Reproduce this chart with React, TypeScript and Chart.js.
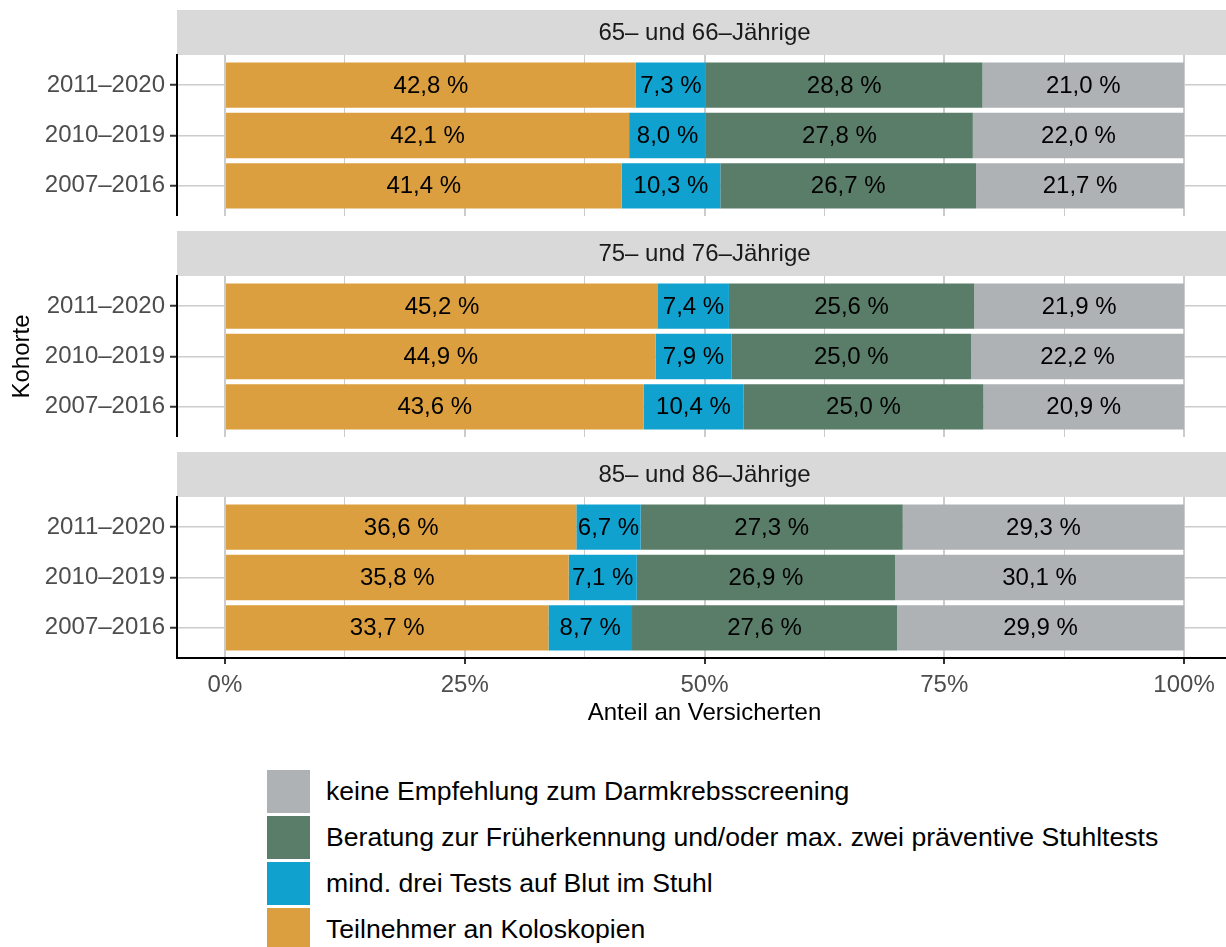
import React, { useEffect, useRef } from 'react';
import { Chart, registerables } from 'chart.js';

Chart.register(...registerables);

// ---------- data ----------
const panelTitles = ['65– und 66–Jährige', '75– und 76–Jährige', '85– und 86–Jährige'];
const cohorts = ['2011–2020', '2010–2019', '2007–2016'];
const seriesNames = [
  'Teilnehmer an Koloskopien',
  'mind. drei Tests auf Blut im Stuhl',
  'Beratung zur Früherkennung und/oder max. zwei präventive Stuhltests',
  'keine Empfehlung zum Darmkrebsscreening',
];
const seriesColors = ['#DB9F3F', '#10A1CF', '#5A7D6A', '#AEB2B5'];

// values per panel (outer) and cohort (inner), in %
const koloskopie = [
  [42.8, 42.1, 41.4],
  [45.2, 44.9, 43.6],
  [36.6, 35.8, 33.7],
];
const bluttests = [
  [7.3, 8.0, 10.3],
  [7.4, 7.9, 10.4],
  [6.7, 7.1, 8.7],
];
const beratung = [
  [28.8, 27.8, 26.7],
  [25.6, 25.0, 25.0],
  [27.3, 26.9, 27.6],
];
const keineEmpfehlung = [
  [21.0, 22.0, 21.7],
  [21.9, 22.2, 20.9],
  [29.3, 30.1, 29.9],
];

const xMajorTicks = [0, 25, 50, 75, 100];
const xTickLabels = ['0%', '25%', '50%', '75%', '100%'];
const xMinorTicks = [12.5, 37.5, 62.5, 87.5];
const xAxisTitle = 'Anteil an Versicherten';
const yAxisTitle = 'Kohorte';
const legendOrder = [3, 2, 1, 0];

// ---------- layout ----------
const FONT = '"Liberation Sans", Arial, Helvetica, sans-serif';
const STRIP_H = 45;
const PLOT_H = 161;
const AXIS_LEFT = 177;
const AXIS_H = 70;
const CANVAS_W = 1232;
const panelTops = [10, 231, 452];

const stripPlugin = {
  id: 'strip',
  beforeDraw(chart: any, _args: any, opts: any) {
    const { ctx, chartArea } = chart;
    ctx.save();
    ctx.fillStyle = '#D9D9D9';
    ctx.fillRect(chartArea.left, chartArea.top - STRIP_H, chartArea.right - chartArea.left, STRIP_H);
    ctx.fillStyle = '#1A1A1A';
    ctx.font = `24px ${FONT}`;
    ctx.textAlign = 'center';
    ctx.textBaseline = 'middle';
    ctx.fillText(opts.title, (chartArea.left + chartArea.right) / 2, chartArea.top - STRIP_H / 2 + 1);
    ctx.restore();
  },
};

const barLabelPlugin = {
  id: 'barLabels',
  afterDatasetsDraw(chart: any) {
    const { ctx } = chart;
    ctx.save();
    ctx.font = `24px ${FONT}`;
    ctx.fillStyle = '#000000';
    ctx.textAlign = 'center';
    ctx.textBaseline = 'middle';
    chart.data.datasets.forEach((ds: any, i: number) => {
      const meta = chart.getDatasetMeta(i);
      meta.data.forEach((el: any, j: number) => {
        const c = el.getCenterPoint();
        const txt = ds.rawValues[j].toFixed(1).replace('.', ',') + ' %';
        ctx.fillText(txt, c.x, c.y + 1);
      });
    });
    ctx.restore();
  },
};

function Panel({ p }: { p: number }) {
  const ref = useRef<HTMLCanvasElement>(null);
  const isBottom = p === panelTitles.length - 1;
  const isMiddle = p === 1;
  const height = STRIP_H + PLOT_H + (isBottom ? AXIS_H : 0);

  useEffect(() => {
    const series = [koloskopie, bluttests, beratung, keineEmpfehlung];
    const sums = cohorts.map((_, c) => series.reduce((s, arr) => s + arr[p][c], 0));
    const datasets = series.map((arr, k) => ({
      label: seriesNames[k],
      backgroundColor: seriesColors[k],
      borderWidth: 0,
      barPercentage: 0.9,
      categoryPercentage: 1,
      data: cohorts.map((_, c) => ({ x: (arr[p][c] / sums[c]) * 100, y: c + 1 })),
      rawValues: cohorts.map((_, c) => arr[p][c]),
    }));
    const allXTicks = [...xMajorTicks, ...xMinorTicks].sort((a, b) => a - b);
    const isMajor = (v: number) => xMajorTicks.indexOf(v) >= 0;

    const chart = new Chart(ref.current as HTMLCanvasElement, {
      type: 'bar',
      data: { datasets } as any,
      options: {
        indexAxis: 'y',
        responsive: false,
        animation: false,
        devicePixelRatio: 1,
        layout: { padding: { top: STRIP_H, left: 0, right: 0, bottom: 0 } },
        plugins: {
          legend: { display: false },
          tooltip: { enabled: false },
          strip: { title: panelTitles[p] },
        } as any,
        scales: {
          x: {
            type: 'linear',
            min: -5,
            max: 105,
            stacked: true,
            offset: false,
            afterBuildTicks: (s: any) => {
              s.ticks = allXTicks.map((v) => ({ value: v }));
            },
            afterFit: (s: any) => {
              s.height = isBottom ? AXIS_H : 0;
              s.paddingLeft = 0;
              s.paddingRight = 0;
            },
            ticks: {
              display: isBottom,
              autoSkip: false,
              maxRotation: 0,
              padding: 7,
              color: '#4D4D4D',
              font: { family: FONT, size: 24 },
              callback: (v: any) => {
                const i = xMajorTicks.indexOf(Number(v));
                return i >= 0 ? xTickLabels[i] : '';
              },
            },
            grid: {
              offset: false,
              color: '#CCCCCC',
              lineWidth: (ctx: any) => (ctx.tick && isMajor(ctx.tick.value) ? 2 : 1),
              drawTicks: isBottom,
              tickLength: 6,
              tickWidth: 2,
              tickColor: (ctx: any) => (ctx.tick && isMajor(ctx.tick.value) ? '#333333' : 'rgba(0,0,0,0)'),
            },
            border: { display: isBottom, color: '#000000', width: 2 },
            title: {
              display: isBottom,
              text: xAxisTitle,
              color: '#000000',
              font: { family: FONT, size: 24 },
              padding: { top: 0, bottom: 0 },
            },
          },
          y: {
            type: 'linear',
            min: 0.4,
            max: 3.6,
            reverse: true,
            stacked: true,
            offset: false,
            afterBuildTicks: (s: any) => {
              s.ticks = cohorts.map((_, c) => ({ value: c + 1 }));
            },
            afterFit: (s: any) => {
              s.width = AXIS_LEFT;
              s.paddingTop = 0;
              s.paddingBottom = 0;
            },
            ticks: {
              padding: 5,
              color: '#4D4D4D',
              font: { family: FONT, size: 24 },
              callback: (v: any) => cohorts[Number(v) - 1] ?? '',
            },
            grid: {
              offset: false,
              color: '#CCCCCC',
              lineWidth: 1.5,
              tickLength: 7,
              tickWidth: 2,
              tickColor: '#333333',
            },
            border: { color: '#000000', width: 2 },
            title: {
              display: isMiddle,
              text: yAxisTitle,
              color: '#000000',
              font: { family: FONT, size: 24 },
              padding: { top: 8, bottom: 0 },
            },
          },
        },
      } as any,
      plugins: [stripPlugin, barLabelPlugin],
    });
    return () => chart.destroy();
  }, [p]);

  return (
    <canvas
      ref={ref}
      width={CANVAS_W}
      height={height}
      style={{ position: 'absolute', left: 0, top: panelTops[p], width: CANVAS_W, height }}
    />
  );
}

export default function App() {
  return (
    <div
      style={{
        position: 'absolute',
        left: 0,
        top: 0,
        width: 1226,
        height: 947,
        overflow: 'hidden',
        background: '#FFFFFF',
      }}
    >
      {panelTitles.map((_, p) => (
        <Panel key={p} p={p} />
      ))}
      <div style={{ position: 'absolute', left: 267, top: 770 }}>
        {legendOrder.map((k, i) => (
          <div
            key={k}
            style={{
              position: 'absolute',
              left: 0,
              top: i * 46,
              height: 43,
              display: 'flex',
              alignItems: 'center',
              whiteSpace: 'nowrap',
            }}
          >
            <div style={{ width: 43, height: 43, background: seriesColors[k] }} />
            <span style={{ marginLeft: 16, fontFamily: FONT, fontSize: 26.6, color: '#000000' }}>
              {seriesNames[k]}
            </span>
          </div>
        ))}
      </div>
    </div>
  );
}
